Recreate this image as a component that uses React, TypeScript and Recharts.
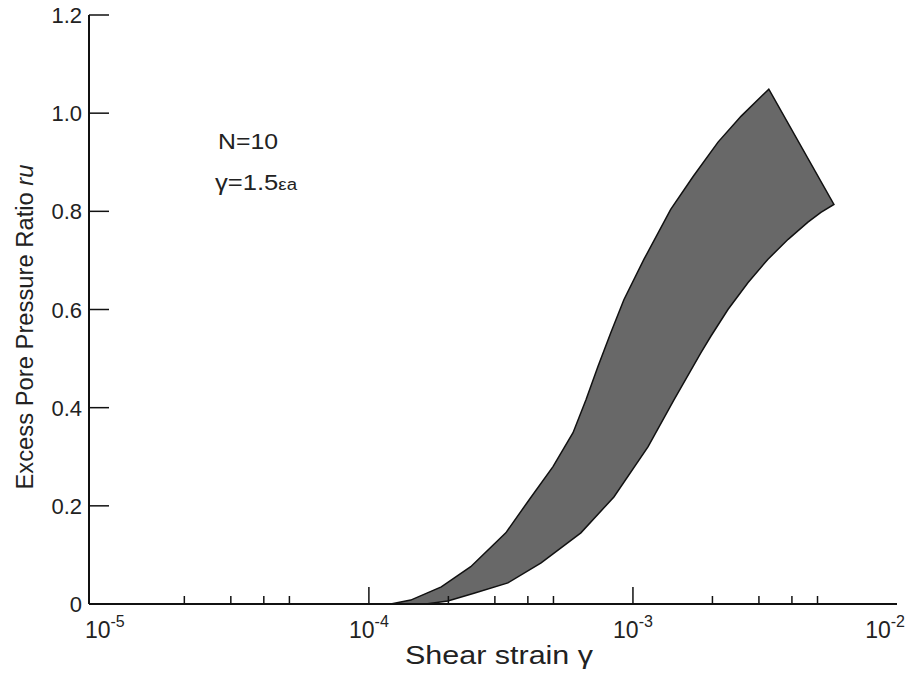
import React from 'react';
import { ComposedChart, Area, XAxis, YAxis, Customized } from 'recharts';

// upper (left) boundary of the band, from zero up to the peak
const upperStrain = [1.21e-4, 1.44e-4, 1.88e-4, 2.43e-4, 3.3e-4, 4.04e-4, 4.98e-4, 5.93e-4, 6.64e-4, 7.37e-4, 8.25e-4, 9.24e-4, 1.1e-3, 1.39e-3, 1.69e-3, 2.1e-3, 2.57e-3, 3.27e-3];
const upperRatio = [0, 0.008, 0.035, 0.076, 0.145, 0.212, 0.28, 0.349, 0.416, 0.484, 0.553, 0.62, 0.702, 0.804, 0.871, 0.941, 0.994, 1.049];

// lower (right) boundary, from the right end back down to zero
const lowerStrain = [5.77e-3, 5.15e-3, 4.6e-3, 3.87e-3, 3.24e-3, 2.73e-3, 2.29e-3, 1.97e-3, 1.81e-3, 1.43e-3, 1.14e-3, 8.47e-4, 6.35e-4, 4.49e-4, 3.36e-4, 2.5e-4, 1.99e-4, 1.64e-4];
const lowerRatio = [0.814, 0.798, 0.778, 0.743, 0.702, 0.655, 0.6, 0.545, 0.512, 0.416, 0.32, 0.218, 0.145, 0.084, 0.043, 0.022, 0.006, 0];

const majorTicks = [1e-5, 1e-4, 1e-3, 1e-2];
const minorTicks = [2e-5, 3e-5, 4e-5, 5e-5, 2e-4, 3e-4, 4e-4, 5e-4, 2e-3, 3e-3, 4e-3, 5e-3];
const yTicks = [0, 0.2, 0.4, 0.6, 0.8, 1.0, 1.2];

const band = [
  ...upperStrain.map((s, i) => ({ strain: s, ratio: upperRatio[i] })),
  ...lowerStrain.map((s, i) => ({ strain: s, ratio: lowerRatio[i] })),
];

const FONT = '"Liberation Sans", Arial, sans-serif';
const xDomain = [Math.pow(10, -5.06), 1e-2];

const isMajor = (v: number) => Math.abs(Math.log10(v) - Math.round(Math.log10(v))) < 1e-9;

const XTick = (props: any) => {
  const { x, y, payload } = props;
  const v = payload.value;
  if (!isMajor(v)) {
    return <line x1={x} y1={y} x2={x} y2={y - 8} stroke="#111" strokeWidth={1.5} />;
  }
  const exp = Math.round(Math.log10(v));
  const last = exp === -2;
  return (
    <g>
      {exp === -4 || exp === -3 ? <line x1={x} y1={y} x2={x} y2={y - 17} stroke="#111" strokeWidth={1.5} /> : null}
      <text
        x={last ? x + 8 : x}
        y={y + 34}
        textAnchor={last ? 'end' : 'middle'}
        fontSize={23}
        fill="#222"
        fontFamily={FONT}
      >
        10<tspan dy={-11} fontSize={16}>{exp}</tspan>
      </text>
    </g>
  );
};

const YTick = (props: any) => {
  const { x, y, payload } = props;
  const v = payload.value;
  return (
    <text x={x - 27} y={y + 8} textAnchor="end" fontSize={22} fill="#222" fontFamily={FONT}>
      {v === 0 ? '0' : v.toFixed(1)}
    </text>
  );
};

const Labels = () => (
  <g fontFamily={FONT} fill="#222">
    <text
      transform="translate(33,327) rotate(-90)"
      textAnchor="middle"
      fontSize={23}
      textLength={325}
      lengthAdjust="spacingAndGlyphs"
    >
      Excess Pore Pressure Ratio <tspan fontStyle="italic">ru</tspan>
    </text>
    <text x={499} y={664} textAnchor="middle" fontSize={26} textLength={188} lengthAdjust="spacingAndGlyphs">
      Shear strain γ
    </text>
    <text x={218} y={149} fontSize={22} textLength={60} lengthAdjust="spacingAndGlyphs">N=10</text>
    <text x={215} y={190} fontSize={22} textLength={82} lengthAdjust="spacingAndGlyphs">
      γ=1.5<tspan fontSize={16}>εa</tspan>
    </text>
  </g>
);

export default function App() {
  return (
    <div style={{ position: 'absolute', left: 0, top: 0, width: 905, height: 675, background: '#fff', fontFamily: FONT }}>
      <ComposedChart width={905} height={675} data={band} margin={{ top: 15, right: 8, bottom: 0, left: 0 }}>
        <XAxis
          type="number"
          dataKey="strain"
          scale="log"
          domain={xDomain}
          allowDataOverflow
          ticks={[...majorTicks, ...minorTicks]}
          interval={0}
          tick={<XTick />}
          tickLine={false}
          tickSize={0}
          tickMargin={0}
          height={71}
          axisLine={{ stroke: '#111', strokeWidth: 2 }}
        />
        <XAxis
          xAxisId="top"
          orientation="top"
          type="number"
          dataKey="strain"
          scale="log"
          domain={xDomain}
          allowDataOverflow
          tick={false}
          tickLine={false}
          height={0}
          axisLine={{ stroke: '#111', strokeWidth: 2 }}
        />
        <YAxis
          type="number"
          domain={[0, 1.2]}
          ticks={yTicks}
          interval={0}
          tick={<YTick />}
          tickLine={{ stroke: '#111', strokeWidth: 1.5 }}
          tickSize={-20}
          tickMargin={0}
          width={89}
          axisLine={{ stroke: '#111', strokeWidth: 2 }}
        />
        <YAxis
          yAxisId="right"
          orientation="right"
          type="number"
          domain={[0, 1.2]}
          tick={false}
          tickLine={false}
          width={0}
          axisLine={{ stroke: '#111', strokeWidth: 2 }}
        />
        <Area
          type="linear"
          dataKey="ratio"
          stroke="#111"
          strokeWidth={1.5}
          fill="#686868"
          fillOpacity={1}
          baseValue={0}
          dot={false}
          activeDot={false}
          isAnimationActive={false}
        />
        <Customized component={Labels} />
      </ComposedChart>
    </div>
  );
}
